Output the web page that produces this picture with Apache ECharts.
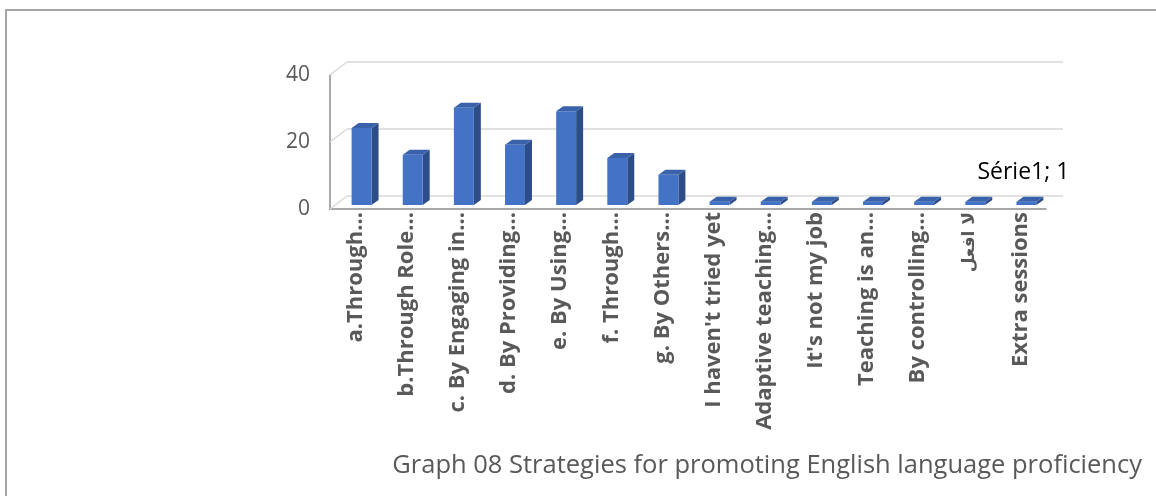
<!DOCTYPE html>
<html>
<head>
<meta charset="utf-8">
<script src="https://cdn.jsdelivr.net/npm/echarts@6/dist/echarts.min.js"></script>
<style>html,body{margin:0;padding:0;background:#fff}#c{width:1156px;height:496px}</style>
</head>
<body>
<div id="c"></div>
<script>
const categories = ["a.Through…", "b.Through Role…", "c. By Engaging in…", "d. By Providing…", "e. By Using…", "f. Through…", "g. By Others…", "I haven't tried yet", "Adaptive teaching…", "It's not my job", "Teaching is an…", "By controlling…", "لا افعل", "Extra sessions"];
const values = [23, 15, 29, 18, 28, 14, 9, 1, 1, 1, 1, 1, 1, 1];
const yTicks = [0, 20, 40];
const seriesName = "Série1";
const caption = "Graph 08 Strategies for promoting English language proficiency";

const FONT = "'Open Sans', 'DejaVu Sans', sans-serif";
const chart = echarts.init(document.getElementById('c'), null, {renderer: 'canvas'});

const DX = 17, DY = -13; // back wall offset

function renderWalls(params, api) {
  const v = api.value(1);
  const bw = api.size([1, 0])[0];
  const p = api.coord([0, v]);
  const q = api.coord([categories.length - 1, v]);
  const left = p[0] - bw / 2, right = q[0] + bw / 2;
  const y = p[1];
  const style = {stroke: '#D9D9D9', lineWidth: 1.5, fill: null};
  return {
    type: 'group',
    children: [
      {type: 'line', shape: {x1: left, y1: y, x2: left + DX, y2: y + DY}, style: style},
      {type: 'line', shape: {x1: left + DX, y1: y + DY, x2: right + DX, y2: y + DY}, style: style}
    ]
  };
}

function renderBar(params, api) {
  const i = api.value(0), v = api.value(1);
  const base = api.coord([i, 0]);
  const top = api.coord([i, v]);
  const bw = api.size([1, 0])[0];
  const w = bw * 0.39;
  const ox = 6, oy = -4;
  const dx = 7, dy = -5;
  const x0 = base[0] - w / 2 + ox, x1 = x0 + w;
  const yb = base[1] + oy, yt = top[1] + oy;
  const children = [
    {type: 'polygon', shape: {points: [[x1, yb], [x1, yt], [x1 + dx, yt + dy], [x1 + dx, yb + dy]]}, style: {fill: '#2C4D87'}},
    {type: 'polygon', shape: {points: [[x0, yt], [x1, yt], [x1 + dx, yt + dy], [x0 + dx, yt + dy]]}, style: {fill: '#3A62AB'}},
    {type: 'rect', shape: {x: x0, y: yt, width: w, height: yb - yt}, style: {fill: '#4472C4'}}
  ];
  if (params.dataIndex === values.length - 1) {
    children.push({type: 'text', x: base[0] + 3, y: yt - 29, style: {text: seriesName + '; ' + v, fill: '#000000', font: '23px ' + FONT, align: 'center', verticalAlign: 'middle'}});
  }
  return {type: 'group', children: children};
}

chart.setOption({
  animation: false,
  backgroundColor: '#ffffff',
  grid: {left: 330, right: 110, top: 75, bottom: 287, containLabel: false},
  xAxis: {
    type: 'category',
    data: categories,
    boundaryGap: true,
    axisTick: {show: false},
    axisLine: {show: true, lineStyle: {color: '#8C8C8C', width: 1.5}},
    axisLabel: {
      rotate: 90, interval: 0, fontWeight: 'bold', fontSize: 22, color: '#595959', margin: 3, fontFamily: FONT,
      formatter: function (val) { return /[\u0600-\u06FF]/.test(val) ? '{ar|' + val + '}' : val; },
      rich: {ar: {fontSize: 17, fontWeight: 'bold', color: '#595959', fontFamily: "'DejaVu Sans', sans-serif"}}
    },
    splitLine: {show: false}
  },
  yAxis: {
    type: 'value',
    min: 0, max: 40, interval: 20,
    axisLine: {show: true, lineStyle: {color: '#8C8C8C', width: 1.5}},
    axisTick: {show: false},
    splitLine: {show: false},
    axisLabel: {fontSize: 21, color: '#595959', margin: 20, fontFamily: FONT}
  },
  series: [
    {type: 'custom', renderItem: renderWalls, data: yTicks.map(t => [0, t]), encode: {x: 0, y: 1}, z: 1, silent: true},
    {type: 'custom', name: seriesName, renderItem: renderBar, data: values.map((v, i) => [i, v]), encode: {x: 0, y: 1}, z: 3}
  ],
  graphic: [
    {type: 'polyline', shape: {points: [[6, 496], [6, 10], [1156, 10]]}, style: {stroke: '#A6A6A6', lineWidth: 2, fill: null}},
    {type: 'text', x: 1142, y: 466, style: {text: caption, fill: '#595959', font: '25.5px ' + FONT, align: 'right', verticalAlign: 'middle'}}
  ]
});
</script>
</body>
</html>
